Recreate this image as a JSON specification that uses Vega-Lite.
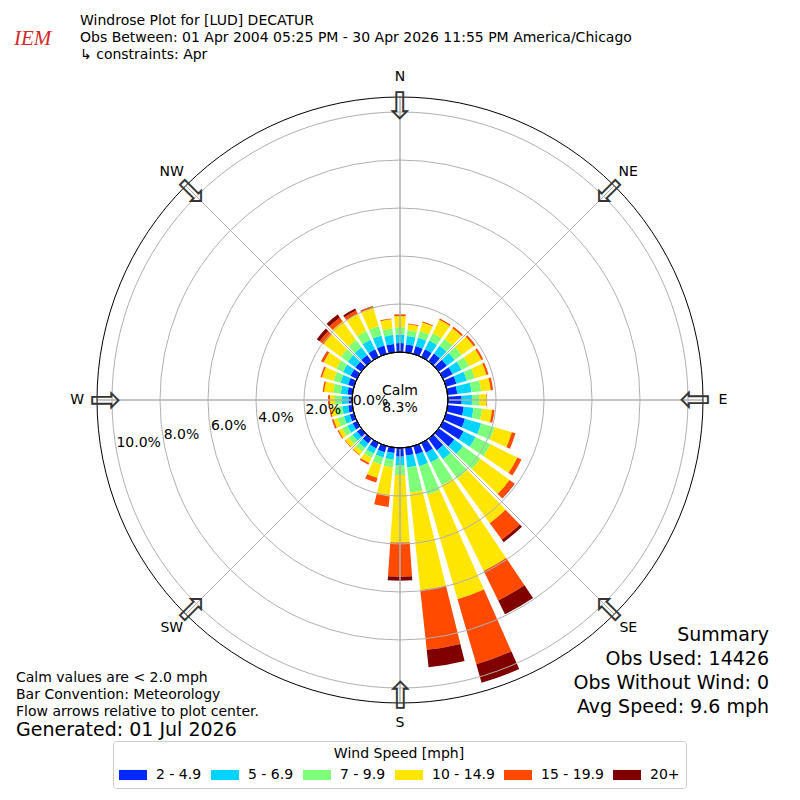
{
  "$schema": "https://vega.github.io/schema/vega-lite/v6.json",
  "width": 800,
  "height": 800,
  "autosize": "none",
  "padding": 0,
  "background": "white",
  "config": {
    "view": {"stroke": null},
    "font": "DejaVu Sans",
    "text": {"font": "DejaVu Sans", "color": "black"},
    "legend": {"labelFont": "DejaVu Sans", "titleFont": "DejaVu Sans", "labelColor": "black", "titleColor": "black", "titleFontWeight": "normal"}
  },
  "title": {
    "text": ["Windrose Plot for [LUD] DECATUR", "Obs Between: 01 Apr 2004 05:25 PM - 30 Apr 2026 11:55 PM America/Chicago", "↳ constraints: Apr"],
    "anchor": "start",
    "frame": "group",
    "orient": "top",
    "font": "DejaVu Sans",
    "fontSize": 14,
    "fontWeight": "normal",
    "color": "black",
    "lineHeight": 17,
    "baseline": "top",
    "dx": 80,
    "offset": -62
  },
  "datasets": {
    "wind": [
      {"dir": 0, "speed": "2 - 4.9", "lo": 2, "pct": 0.37}, {"dir": 0, "speed": "5 - 6.9", "lo": 5, "pct": 0.36}, {"dir": 0, "speed": "7 - 9.9", "lo": 7, "pct": 0.30}, {"dir": 0, "speed": "10 - 14.9", "lo": 10, "pct": 0.47}, {"dir": 0, "speed": "15 - 19.9", "lo": 15, "pct": 0.07}, {"dir": 0, "speed": "20+", "lo": 20, "pct": 0.00},
      {"dir": 10, "speed": "2 - 4.9", "lo": 2, "pct": 0.33}, {"dir": 10, "speed": "5 - 6.9", "lo": 5, "pct": 0.35}, {"dir": 10, "speed": "7 - 9.9", "lo": 7, "pct": 0.25}, {"dir": 10, "speed": "10 - 14.9", "lo": 10, "pct": 0.24}, {"dir": 10, "speed": "15 - 19.9", "lo": 15, "pct": 0.04}, {"dir": 10, "speed": "20+", "lo": 20, "pct": 0.00},
      {"dir": 20, "speed": "2 - 4.9", "lo": 2, "pct": 0.34}, {"dir": 20, "speed": "5 - 6.9", "lo": 5, "pct": 0.36}, {"dir": 20, "speed": "7 - 9.9", "lo": 7, "pct": 0.28}, {"dir": 20, "speed": "10 - 14.9", "lo": 10, "pct": 0.38}, {"dir": 20, "speed": "15 - 19.9", "lo": 15, "pct": 0.04}, {"dir": 20, "speed": "20+", "lo": 20, "pct": 0.00},
      {"dir": 30, "speed": "2 - 4.9", "lo": 2, "pct": 0.36}, {"dir": 30, "speed": "5 - 6.9", "lo": 5, "pct": 0.40}, {"dir": 30, "speed": "7 - 9.9", "lo": 7, "pct": 0.34}, {"dir": 30, "speed": "10 - 14.9", "lo": 10, "pct": 0.62}, {"dir": 30, "speed": "15 - 19.9", "lo": 15, "pct": 0.06}, {"dir": 30, "speed": "20+", "lo": 20, "pct": 0.00},
      {"dir": 40, "speed": "2 - 4.9", "lo": 2, "pct": 0.40}, {"dir": 40, "speed": "5 - 6.9", "lo": 5, "pct": 0.40}, {"dir": 40, "speed": "7 - 9.9", "lo": 7, "pct": 0.35}, {"dir": 40, "speed": "10 - 14.9", "lo": 10, "pct": 0.55}, {"dir": 40, "speed": "15 - 19.9", "lo": 15, "pct": 0.08}, {"dir": 40, "speed": "20+", "lo": 20, "pct": 0.00},
      {"dir": 50, "speed": "2 - 4.9", "lo": 2, "pct": 0.42}, {"dir": 50, "speed": "5 - 6.9", "lo": 5, "pct": 0.40}, {"dir": 50, "speed": "7 - 9.9", "lo": 7, "pct": 0.36}, {"dir": 50, "speed": "10 - 14.9", "lo": 10, "pct": 0.62}, {"dir": 50, "speed": "15 - 19.9", "lo": 15, "pct": 0.08}, {"dir": 50, "speed": "20+", "lo": 20, "pct": 0.01},
      {"dir": 60, "speed": "2 - 4.9", "lo": 2, "pct": 0.44}, {"dir": 60, "speed": "5 - 6.9", "lo": 5, "pct": 0.41}, {"dir": 60, "speed": "7 - 9.9", "lo": 7, "pct": 0.35}, {"dir": 60, "speed": "10 - 14.9", "lo": 10, "pct": 0.58}, {"dir": 60, "speed": "15 - 19.9", "lo": 15, "pct": 0.08}, {"dir": 60, "speed": "20+", "lo": 20, "pct": 0.00},
      {"dir": 70, "speed": "2 - 4.9", "lo": 2, "pct": 0.45}, {"dir": 70, "speed": "5 - 6.9", "lo": 5, "pct": 0.45}, {"dir": 70, "speed": "7 - 9.9", "lo": 7, "pct": 0.35}, {"dir": 70, "speed": "10 - 14.9", "lo": 10, "pct": 0.50}, {"dir": 70, "speed": "15 - 19.9", "lo": 15, "pct": 0.09}, {"dir": 70, "speed": "20+", "lo": 20, "pct": 0.00},
      {"dir": 80, "speed": "2 - 4.9", "lo": 2, "pct": 0.40}, {"dir": 80, "speed": "5 - 6.9", "lo": 5, "pct": 0.60}, {"dir": 80, "speed": "7 - 9.9", "lo": 7, "pct": 0.40}, {"dir": 80, "speed": "10 - 14.9", "lo": 10, "pct": 0.40}, {"dir": 80, "speed": "15 - 19.9", "lo": 15, "pct": 0.10}, {"dir": 80, "speed": "20+", "lo": 20, "pct": 0.00},
      {"dir": 90, "speed": "2 - 4.9", "lo": 2, "pct": 0.57}, {"dir": 90, "speed": "5 - 6.9", "lo": 5, "pct": 0.43}, {"dir": 90, "speed": "7 - 9.9", "lo": 7, "pct": 0.30}, {"dir": 90, "speed": "10 - 14.9", "lo": 10, "pct": 0.31}, {"dir": 90, "speed": "15 - 19.9", "lo": 15, "pct": 0.02}, {"dir": 90, "speed": "20+", "lo": 20, "pct": 0.00},
      {"dir": 100, "speed": "2 - 4.9", "lo": 2, "pct": 0.67}, {"dir": 100, "speed": "5 - 6.9", "lo": 5, "pct": 0.41}, {"dir": 100, "speed": "7 - 9.9", "lo": 7, "pct": 0.36}, {"dir": 100, "speed": "10 - 14.9", "lo": 10, "pct": 0.42}, {"dir": 100, "speed": "15 - 19.9", "lo": 15, "pct": 0.10}, {"dir": 100, "speed": "20+", "lo": 20, "pct": 0.00},
      {"dir": 110, "speed": "2 - 4.9", "lo": 2, "pct": 0.82}, {"dir": 110, "speed": "5 - 6.9", "lo": 5, "pct": 0.70}, {"dir": 110, "speed": "7 - 9.9", "lo": 7, "pct": 0.58}, {"dir": 110, "speed": "10 - 14.9", "lo": 10, "pct": 0.75}, {"dir": 110, "speed": "15 - 19.9", "lo": 15, "pct": 0.16}, {"dir": 110, "speed": "20+", "lo": 20, "pct": 0.00},
      {"dir": 120, "speed": "2 - 4.9", "lo": 2, "pct": 0.95}, {"dir": 120, "speed": "5 - 6.9", "lo": 5, "pct": 0.55}, {"dir": 120, "speed": "7 - 9.9", "lo": 7, "pct": 0.70}, {"dir": 120, "speed": "10 - 14.9", "lo": 10, "pct": 1.25}, {"dir": 120, "speed": "15 - 19.9", "lo": 15, "pct": 0.19}, {"dir": 120, "speed": "20+", "lo": 20, "pct": 0.00},
      {"dir": 130, "speed": "2 - 4.9", "lo": 2, "pct": 0.80}, {"dir": 130, "speed": "5 - 6.9", "lo": 5, "pct": 0.45}, {"dir": 130, "speed": "7 - 9.9", "lo": 7, "pct": 0.90}, {"dir": 130, "speed": "10 - 14.9", "lo": 10, "pct": 1.50}, {"dir": 130, "speed": "15 - 19.9", "lo": 15, "pct": 0.25}, {"dir": 130, "speed": "20+", "lo": 20, "pct": 0.02},
      {"dir": 140, "speed": "2 - 4.9", "lo": 2, "pct": 0.60}, {"dir": 140, "speed": "5 - 6.9", "lo": 5, "pct": 0.45}, {"dir": 140, "speed": "7 - 9.9", "lo": 7, "pct": 1.00}, {"dir": 140, "speed": "10 - 14.9", "lo": 10, "pct": 2.30}, {"dir": 140, "speed": "15 - 19.9", "lo": 15, "pct": 0.85}, {"dir": 140, "speed": "20+", "lo": 20, "pct": 0.13},
      {"dir": 150, "speed": "2 - 4.9", "lo": 2, "pct": 0.45}, {"dir": 150, "speed": "5 - 6.9", "lo": 5, "pct": 0.45}, {"dir": 150, "speed": "7 - 9.9", "lo": 7, "pct": 1.05}, {"dir": 150, "speed": "10 - 14.9", "lo": 10, "pct": 3.98}, {"dir": 150, "speed": "15 - 19.9", "lo": 15, "pct": 1.37}, {"dir": 150, "speed": "20+", "lo": 20, "pct": 0.64},
      {"dir": 160, "speed": "2 - 4.9", "lo": 2, "pct": 0.36}, {"dir": 160, "speed": "5 - 6.9", "lo": 5, "pct": 0.51}, {"dir": 160, "speed": "7 - 9.9", "lo": 7, "pct": 1.23}, {"dir": 160, "speed": "10 - 14.9", "lo": 10, "pct": 4.54}, {"dir": 160, "speed": "15 - 19.9", "lo": 15, "pct": 2.82}, {"dir": 160, "speed": "20+", "lo": 20, "pct": 0.80},
      {"dir": 170, "speed": "2 - 4.9", "lo": 2, "pct": 0.33}, {"dir": 170, "speed": "5 - 6.9", "lo": 5, "pct": 0.49}, {"dir": 170, "speed": "7 - 9.9", "lo": 7, "pct": 1.06}, {"dir": 170, "speed": "10 - 14.9", "lo": 10, "pct": 4.09}, {"dir": 170, "speed": "15 - 19.9", "lo": 15, "pct": 2.50}, {"dir": 170, "speed": "20+", "lo": 20, "pct": 0.73},
      {"dir": 180, "speed": "2 - 4.9", "lo": 2, "pct": 0.36}, {"dir": 180, "speed": "5 - 6.9", "lo": 5, "pct": 0.35}, {"dir": 180, "speed": "7 - 9.9", "lo": 7, "pct": 0.42}, {"dir": 180, "speed": "10 - 14.9", "lo": 10, "pct": 2.81}, {"dir": 180, "speed": "15 - 19.9", "lo": 15, "pct": 1.42}, {"dir": 180, "speed": "20+", "lo": 20, "pct": 0.17},
      {"dir": 190, "speed": "2 - 4.9", "lo": 2, "pct": 0.22}, {"dir": 190, "speed": "5 - 6.9", "lo": 5, "pct": 0.28}, {"dir": 190, "speed": "7 - 9.9", "lo": 7, "pct": 0.32}, {"dir": 190, "speed": "10 - 14.9", "lo": 10, "pct": 1.22}, {"dir": 190, "speed": "15 - 19.9", "lo": 15, "pct": 0.44}, {"dir": 190, "speed": "20+", "lo": 20, "pct": 0.00},
      {"dir": 200, "speed": "2 - 4.9", "lo": 2, "pct": 0.27}, {"dir": 200, "speed": "5 - 6.9", "lo": 5, "pct": 0.23}, {"dir": 200, "speed": "7 - 9.9", "lo": 7, "pct": 0.30}, {"dir": 200, "speed": "10 - 14.9", "lo": 10, "pct": 0.58}, {"dir": 200, "speed": "15 - 19.9", "lo": 15, "pct": 0.20}, {"dir": 200, "speed": "20+", "lo": 20, "pct": 0.00},
      {"dir": 210, "speed": "2 - 4.9", "lo": 2, "pct": 0.25}, {"dir": 210, "speed": "5 - 6.9", "lo": 5, "pct": 0.23}, {"dir": 210, "speed": "7 - 9.9", "lo": 7, "pct": 0.20}, {"dir": 210, "speed": "10 - 14.9", "lo": 10, "pct": 0.24}, {"dir": 210, "speed": "15 - 19.9", "lo": 15, "pct": 0.08}, {"dir": 210, "speed": "20+", "lo": 20, "pct": 0.00},
      {"dir": 220, "speed": "2 - 4.9", "lo": 2, "pct": 0.24}, {"dir": 220, "speed": "5 - 6.9", "lo": 5, "pct": 0.23}, {"dir": 220, "speed": "7 - 9.9", "lo": 7, "pct": 0.19}, {"dir": 220, "speed": "10 - 14.9", "lo": 10, "pct": 0.17}, {"dir": 220, "speed": "15 - 19.9", "lo": 15, "pct": 0.03}, {"dir": 220, "speed": "20+", "lo": 20, "pct": 0.00},
      {"dir": 230, "speed": "2 - 4.9", "lo": 2, "pct": 0.22}, {"dir": 230, "speed": "5 - 6.9", "lo": 5, "pct": 0.23}, {"dir": 230, "speed": "7 - 9.9", "lo": 7, "pct": 0.20}, {"dir": 230, "speed": "10 - 14.9", "lo": 10, "pct": 0.17}, {"dir": 230, "speed": "15 - 19.9", "lo": 15, "pct": 0.03}, {"dir": 230, "speed": "20+", "lo": 20, "pct": 0.00},
      {"dir": 240, "speed": "2 - 4.9", "lo": 2, "pct": 0.20}, {"dir": 240, "speed": "5 - 6.9", "lo": 5, "pct": 0.25}, {"dir": 240, "speed": "7 - 9.9", "lo": 7, "pct": 0.23}, {"dir": 240, "speed": "10 - 14.9", "lo": 10, "pct": 0.17}, {"dir": 240, "speed": "15 - 19.9", "lo": 15, "pct": 0.05}, {"dir": 240, "speed": "20+", "lo": 20, "pct": 0.00},
      {"dir": 250, "speed": "2 - 4.9", "lo": 2, "pct": 0.18}, {"dir": 250, "speed": "5 - 6.9", "lo": 5, "pct": 0.25}, {"dir": 250, "speed": "7 - 9.9", "lo": 7, "pct": 0.27}, {"dir": 250, "speed": "10 - 14.9", "lo": 10, "pct": 0.18}, {"dir": 250, "speed": "15 - 19.9", "lo": 15, "pct": 0.06}, {"dir": 250, "speed": "20+", "lo": 20, "pct": 0.01},
      {"dir": 260, "speed": "2 - 4.9", "lo": 2, "pct": 0.17}, {"dir": 260, "speed": "5 - 6.9", "lo": 5, "pct": 0.25}, {"dir": 260, "speed": "7 - 9.9", "lo": 7, "pct": 0.28}, {"dir": 260, "speed": "10 - 14.9", "lo": 10, "pct": 0.20}, {"dir": 260, "speed": "15 - 19.9", "lo": 15, "pct": 0.06}, {"dir": 260, "speed": "20+", "lo": 20, "pct": 0.00},
      {"dir": 270, "speed": "2 - 4.9", "lo": 2, "pct": 0.15}, {"dir": 270, "speed": "5 - 6.9", "lo": 5, "pct": 0.28}, {"dir": 270, "speed": "7 - 9.9", "lo": 7, "pct": 0.28}, {"dir": 270, "speed": "10 - 14.9", "lo": 10, "pct": 0.21}, {"dir": 270, "speed": "15 - 19.9", "lo": 15, "pct": 0.08}, {"dir": 270, "speed": "20+", "lo": 20, "pct": 0.00},
      {"dir": 280, "speed": "2 - 4.9", "lo": 2, "pct": 0.20}, {"dir": 280, "speed": "5 - 6.9", "lo": 5, "pct": 0.28}, {"dir": 280, "speed": "7 - 9.9", "lo": 7, "pct": 0.32}, {"dir": 280, "speed": "10 - 14.9", "lo": 10, "pct": 0.38}, {"dir": 280, "speed": "15 - 19.9", "lo": 15, "pct": 0.06}, {"dir": 280, "speed": "20+", "lo": 20, "pct": 0.00},
      {"dir": 290, "speed": "2 - 4.9", "lo": 2, "pct": 0.25}, {"dir": 290, "speed": "5 - 6.9", "lo": 5, "pct": 0.33}, {"dir": 290, "speed": "7 - 9.9", "lo": 7, "pct": 0.30}, {"dir": 290, "speed": "10 - 14.9", "lo": 10, "pct": 0.50}, {"dir": 290, "speed": "15 - 19.9", "lo": 15, "pct": 0.07}, {"dir": 290, "speed": "20+", "lo": 20, "pct": 0.00},
      {"dir": 300, "speed": "2 - 4.9", "lo": 2, "pct": 0.30}, {"dir": 300, "speed": "5 - 6.9", "lo": 5, "pct": 0.35}, {"dir": 300, "speed": "7 - 9.9", "lo": 7, "pct": 0.30}, {"dir": 300, "speed": "10 - 14.9", "lo": 10, "pct": 0.60}, {"dir": 300, "speed": "15 - 19.9", "lo": 15, "pct": 0.10}, {"dir": 300, "speed": "20+", "lo": 20, "pct": 0.01},
      {"dir": 310, "speed": "2 - 4.9", "lo": 2, "pct": 0.30}, {"dir": 310, "speed": "5 - 6.9", "lo": 5, "pct": 0.40}, {"dir": 310, "speed": "7 - 9.9", "lo": 7, "pct": 0.35}, {"dir": 310, "speed": "10 - 14.9", "lo": 10, "pct": 0.90}, {"dir": 310, "speed": "15 - 19.9", "lo": 15, "pct": 0.20}, {"dir": 310, "speed": "20+", "lo": 20, "pct": 0.14},
      {"dir": 320, "speed": "2 - 4.9", "lo": 2, "pct": 0.32}, {"dir": 320, "speed": "5 - 6.9", "lo": 5, "pct": 0.40}, {"dir": 320, "speed": "7 - 9.9", "lo": 7, "pct": 0.38}, {"dir": 320, "speed": "10 - 14.9", "lo": 10, "pct": 0.95}, {"dir": 320, "speed": "15 - 19.9", "lo": 15, "pct": 0.20}, {"dir": 320, "speed": "20+", "lo": 20, "pct": 0.16},
      {"dir": 330, "speed": "2 - 4.9", "lo": 2, "pct": 0.35}, {"dir": 330, "speed": "5 - 6.9", "lo": 5, "pct": 0.45}, {"dir": 330, "speed": "7 - 9.9", "lo": 7, "pct": 0.40}, {"dir": 330, "speed": "10 - 14.9", "lo": 10, "pct": 0.80}, {"dir": 330, "speed": "15 - 19.9", "lo": 15, "pct": 0.15}, {"dir": 330, "speed": "20+", "lo": 20, "pct": 0.09},
      {"dir": 340, "speed": "2 - 4.9", "lo": 2, "pct": 0.36}, {"dir": 340, "speed": "5 - 6.9", "lo": 5, "pct": 0.44}, {"dir": 340, "speed": "7 - 9.9", "lo": 7, "pct": 0.40}, {"dir": 340, "speed": "10 - 14.9", "lo": 10, "pct": 0.80}, {"dir": 340, "speed": "15 - 19.9", "lo": 15, "pct": 0.07}, {"dir": 340, "speed": "20+", "lo": 20, "pct": 0.01},
      {"dir": 350, "speed": "2 - 4.9", "lo": 2, "pct": 0.35}, {"dir": 350, "speed": "5 - 6.9", "lo": 5, "pct": 0.37}, {"dir": 350, "speed": "7 - 9.9", "lo": 7, "pct": 0.28}, {"dir": 350, "speed": "10 - 14.9", "lo": 10, "pct": 0.38}, {"dir": 350, "speed": "15 - 19.9", "lo": 15, "pct": 0.04}, {"dir": 350, "speed": "20+", "lo": 20, "pct": 0.00}
    ],
    "rings": [
      {"pct": 0, "label": "0.0%"}, {"pct": 2, "label": "2.0%"}, {"pct": 4, "label": "4.0%"},
      {"pct": 6, "label": "6.0%"}, {"pct": 8, "label": "8.0%"}, {"pct": 10, "label": "10.0%"}
    ],
    "compass": [
      {"deg": 0, "label": "N"}, {"deg": 45, "label": "NE"}, {"deg": 90, "label": "E"}, {"deg": 135, "label": "SE"},
      {"deg": 180, "label": "S"}, {"deg": 225, "label": "SW"}, {"deg": 270, "label": "W"}, {"deg": 315, "label": "NW"}
    ],
    "notes": [
      {"note": "Calm values are < 2.0 mph"},
      {"note": "Bar Convention: Meteorology"},
      {"note": "Flow arrows relative to plot center."}
    ],
    "summary": [
      {"stat": "Summary"},
      {"stat": "Obs Used: 14426"},
      {"stat": "Obs Without Wind: 0"},
      {"stat": "Avg Speed: 9.6 mph"}
    ],
    "calm": [{"label": "Calm\n8.3%"}],
    "logo": [{"name": "IEM"}]
  },
  "layer": [
    {
      "data": {"name": "wind"},
      "transform": [
        {"stack": "pct", "groupby": ["dir"], "sort": [{"field": "lo", "order": "ascending"}], "as": ["r0", "r1"]},
        {"calculate": "datum.dir - 3.9", "as": "t0"},
        {"calculate": "datum.dir + 3.9", "as": "t1"}
      ],
      "mark": {"type": "arc"},
      "encoding": {
        "theta": {"field": "t0", "type": "quantitative", "stack": null, "scale": {"domain": [0, 360], "range": [0, 6.283185307179586], "nice": false, "zero": false}},
        "theta2": {"field": "t1"},
        "radius": {"field": "r0", "type": "quantitative", "stack": null, "scale": {"type": "linear", "domain": [0, 10], "range": [48, 288], "nice": false, "zero": false}},
        "radius2": {"field": "r1"},
        "color": {
          "field": "speed",
          "type": "nominal",
          "scale": {
            "domain": ["2 - 4.9", "5 - 6.9", "7 - 9.9", "10 - 14.9", "15 - 19.9", "20+"],
            "range": ["#0028ff", "#00d4ff", "#7dff7a", "#ffe600", "#ff4a00", "#800000"]
          },
          "legend": {
            "orient": "none",
            "legendX": 113,
            "legendY": 741,
            "direction": "horizontal",
            "title": "Wind Speed [mph]",
            "titleAnchor": "middle",
            "titleFontSize": 14,
            "titlePadding": 0,
            "labelFontSize": 14,
            "labelOffset": 9,
            "symbolType": "M-1,-0.36H1V0.36H-1Z",
            "symbolSize": 784,
            "symbolStrokeWidth": 0,
            "columnPadding": 9,
            "padding": 6,
            "strokeColor": "#cccccc",
            "fillColor": "white",
            "cornerRadius": 3
          }
        }
      }
    },
    {
      "data": {"name": "rings"},
      "transform": [{"filter": "datum.pct > 0"}],
      "mark": {"type": "arc", "filled": false, "stroke": "#b0b0b0", "strokeWidth": 1, "theta": 0, "theta2": 6.283185307179586},
      "encoding": {
        "radius": {"field": "pct", "type": "quantitative", "stack": null, "scale": {"type": "linear", "domain": [0, 10], "range": [48, 288], "nice": false, "zero": false}}
      }
    },
    {
      "data": {"name": "compass"},
      "mark": {"type": "arc", "filled": false, "stroke": "#b0b0b0", "strokeWidth": 1},
      "encoding": {
        "theta": {"field": "deg", "type": "quantitative", "stack": null, "scale": {"domain": [0, 360], "range": [0, 6.283185307179586], "nice": false, "zero": false}},
        "theta2": {"field": "deg"},
        "radius": {"datum": 0, "type": "quantitative", "stack": null, "scale": {"type": "linear", "domain": [0, 10], "range": [48, 288], "nice": false, "zero": false}},
        "radius2": {"datum": 10.625}
      }
    },
    {
      "data": {"values": [{}]},
      "mark": {"type": "arc", "filled": false, "stroke": "black", "strokeWidth": 1, "theta": 0, "theta2": 6.283185307179586},
      "encoding": {
        "radius": {"datum": 10.625, "type": "quantitative", "stack": null, "scale": {"type": "linear", "domain": [0, 10], "range": [48, 288], "nice": false, "zero": false}}
      }
    },
    {
      "data": {"values": [{}]},
      "mark": {"type": "arc", "fill": "white", "stroke": "black", "strokeWidth": 1, "theta": 0, "theta2": 6.283185307179586},
      "encoding": {
        "radius": {"datum": 0, "type": "quantitative", "stack": null, "scale": {"type": "linear", "domain": [0, 10], "range": [48, 288], "nice": false, "zero": false}}
      }
    },
    {
      "data": {"name": "rings"},
      "mark": {"type": "text", "align": "left", "baseline": "bottom", "fontSize": 14},
      "encoding": {
        "theta": {"datum": 260, "type": "quantitative", "stack": null, "scale": {"domain": [0, 360], "range": [0, 6.283185307179586], "nice": false, "zero": false}},
        "radius": {"field": "pct", "type": "quantitative", "stack": null, "scale": {"type": "linear", "domain": [0, 10], "range": [48, 288], "nice": false, "zero": false}},
        "text": {"field": "label"}
      }
    },
    {
      "data": {"name": "compass"},
      "mark": {"type": "text", "align": "center", "baseline": "middle", "fontSize": 14},
      "encoding": {
        "theta": {"field": "deg", "type": "quantitative", "stack": null, "scale": {"domain": [0, 360], "range": [0, 6.283185307179586], "nice": false, "zero": false}},
        "radius": {"datum": 11.45, "type": "quantitative", "stack": null, "scale": {"type": "linear", "domain": [0, 10], "range": [48, 288], "nice": false, "zero": false}},
        "text": {"field": "label"}
      }
    },
    {
      "data": {"name": "compass"},
      "mark": {"type": "text", "text": "⇩", "align": "center", "baseline": "middle", "fontSize": 38, "color": "#333333"},
      "encoding": {
        "theta": {"field": "deg", "type": "quantitative", "stack": null, "scale": {"domain": [0, 360], "range": [0, 6.283185307179586], "nice": false, "zero": false}},
        "radius": {"datum": 10.17, "type": "quantitative", "stack": null, "scale": {"type": "linear", "domain": [0, 10], "range": [48, 288], "nice": false, "zero": false}},
        "angle": {"field": "deg", "type": "quantitative", "scale": null}
      }
    },
    {
      "data": {"name": "calm"},
      "mark": {"type": "text", "align": "center", "baseline": "middle", "fontSize": 14, "lineBreak": "\n", "lineHeight": 17, "dy": -9},
      "encoding": {
        "text": {"field": "label"}
      }
    },
    {
      "data": {"name": "notes"},
      "mark": {"type": "point", "opacity": 0},
      "encoding": {
        "shape": {
          "field": "note",
          "type": "nominal",
          "sort": null,
          "legend": {
            "orient": "none",
            "legendX": 16,
            "legendY": 671,
            "title": "Generated: 01 Jul 2026",
            "titleOrient": "bottom",
            "titleAnchor": "start",
            "titleFontSize": 19,
            "titlePadding": 2,
            "titleLimit": 400,
            "labelFontSize": 14,
            "labelOffset": -14,
            "labelLimit": 400,
            "symbolSize": 0,
            "symbolOpacity": 0,
            "symbolStrokeWidth": 0,
            "rowPadding": 3,
            "padding": 0
          }
        }
      }
    },
    {
      "data": {"name": "summary"},
      "mark": {"type": "point", "opacity": 0},
      "encoding": {
        "strokeDash": {
          "field": "stat",
          "type": "nominal",
          "sort": null,
          "legend": {
            "orient": "none",
            "legendX": 768,
            "legendY": 625,
            "title": null,
            "labelAlign": "right",
            "labelFontSize": 19,
            "labelOffset": -18,
            "labelLimit": 400,
            "symbolSize": 0,
            "symbolOpacity": 0,
            "symbolStrokeWidth": 0,
            "rowPadding": 4,
            "padding": 0
          }
        }
      }
    },
    {
      "data": {"name": "logo"},
      "mark": {"type": "point", "opacity": 0},
      "encoding": {
        "stroke": {
          "field": "name",
          "type": "nominal",
          "legend": {
            "orient": "none",
            "legendX": 14,
            "legendY": 28,
            "title": null,
            "labelFont": "Liberation Serif",
            "labelFontStyle": "italic",
            "labelFontSize": 21,
            "labelColor": "#d42a2a",
            "labelOffset": -21,
            "symbolSize": 0,
            "symbolOpacity": 0,
            "symbolStrokeWidth": 0,
            "padding": 0
          }
        }
      }
    }
  ]
}
